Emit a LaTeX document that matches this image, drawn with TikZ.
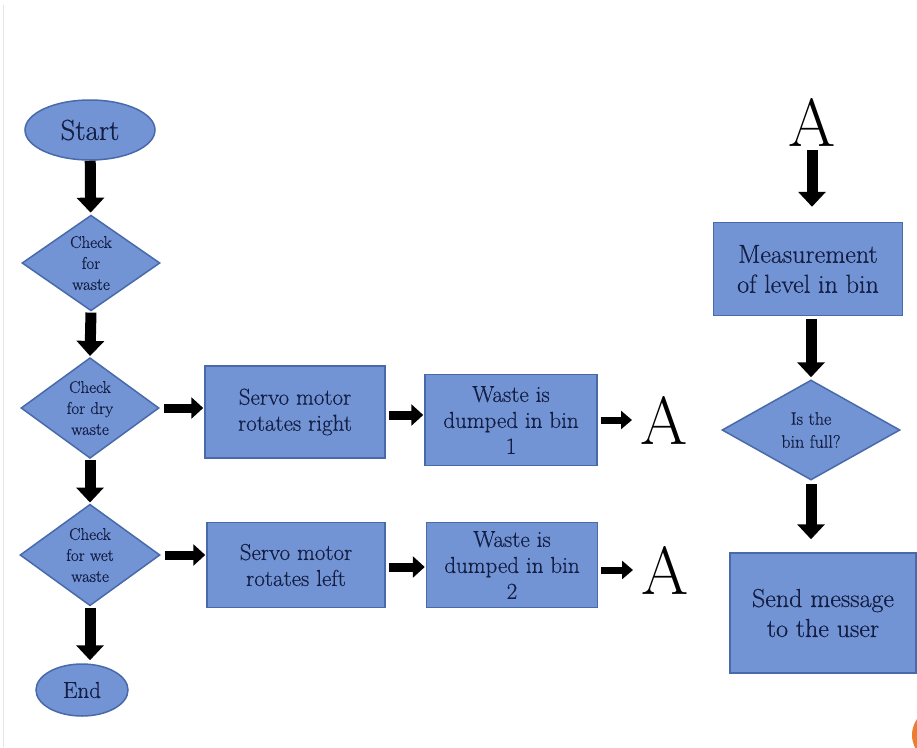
\documentclass[tikz,border=0pt]{standalone}
\usepackage{fontspec}
\setmainfont{Latin Modern Roman}[FakeBold=0.5]
\newfontfamily\plainlm{Latin Modern Roman}
\usetikzlibrary{shapes.geometric,arrows.meta}
\definecolor{boxfill}{RGB}{114,148,212}
\definecolor{boxline}{RGB}{72,106,170}
\definecolor{txt}{RGB}{20,30,68}
\definecolor{orng}{RGB}{237,125,49}
\begin{document}
\begin{tikzpicture}[x=1pt,y=-1pt,
  base/.style={fill=boxfill,draw=boxline,line width=1.5pt,text=txt,align=center,inner sep=0pt},
  term/.style={base,ellipse},
  decide/.style={base,diamond,font=\fontsize{17}{21}\selectfont},
  proc/.style={base,rectangle},
  midtext/.style={font=\fontsize{23}{26}\selectfont},
  bigtext/.style={font=\fontsize{26}{30}\selectfont},
  conn/.style={text=black,inner sep=0pt,font=\plainlm\fontsize{68}{68}\selectfont},
  flow/.style={line width=11pt,-{Triangle[length=15pt,width=27pt]}},
  hflow/.style={line width=9pt,-{Triangle[length=12pt,width=21pt]}},
  aflow/.style={line width=7pt,-{Triangle[length=11pt,width=18pt]}}
]
\useasboundingbox (0,0) rectangle (917,747);
\fill[white] (0,0) rectangle (917,747);
\draw[black!10,line width=1pt] (3,5) -- (3,747);
\begin{scope}
  \clip (0,0) rectangle (917,747);
  \fill[orng] (940,735) circle (28);
\end{scope}

% left column
\node[term,minimum width=130pt,minimum height=60pt,font=\fontsize{29}{29}\selectfont] (start) at (90,130) {Start};
\node[decide,minimum width=138pt,minimum height=94pt] (chk) at (91,263) {Check\\for\\waste};
\node[decide,minimum width=138pt,minimum height=100pt] (dry) at (90,408) {Check\\for dry\\waste};
\node[decide,minimum width=140pt,minimum height=100pt] (wet) at (90,555) {Check\\for wet\\waste};
\node[term,minimum width=92pt,minimum height=52pt,font=\fontsize{23}{23}\selectfont] (end) at (82,690) {End};

% middle rows
\node[proc,midtext,minimum width=180pt,minimum height=92pt] (srvR) at (295,412) {Servo motor\\rotates right};
\node[proc,midtext,minimum width=172pt,minimum height=91pt] (dmp1) at (511,420) {Waste is\\dumped in bin\\1};
\node[conn,anchor=west] (a1) at (640,420) {A};
\node[proc,midtext,minimum width=178pt,minimum height=85pt] (srvL) at (296,565) {Servo motor\\rotates left};
\node[proc,midtext,minimum width=171pt,minimum height=85pt] (dmp2) at (512,565) {Waste is\\dumped in bin\\2};
\node[conn,anchor=west] (a2) at (641,570) {A};

% right column
\node[conn] (a3) at (812,122) {A};
\node[proc,bigtext,minimum width=189pt,minimum height=93pt] (meas) at (808,269) {Measurement\\of level in bin};
\node[decide,minimum width=178pt,minimum height=100pt,font=\fontsize{18}{23}\selectfont] (full) at (811,430) {Is the\\bin full?};
\node[proc,bigtext,minimum width=186pt,minimum height=120pt] (send) at (823,613) {Send message\\to the user};

% connectors
\draw[flow,shorten >=2pt] (start) -- (chk);
\draw[flow,shorten <=1pt,shorten >=1pt] (chk.south) -- (dry.north);
\draw[flow,shorten <=1pt,shorten >=1pt] (dry.south) -- (wet.north);
\draw[flow,shorten <=1pt,shorten >=3pt] (wet.south) -- (end.north -| wet.south);
\draw[hflow,shorten <=4pt,shorten >=1pt] (dry.east) -- (dry.east -| srvR.west);
\draw[hflow,shorten <=4pt,shorten >=1pt] (wet.east) -- (wet.east -| srvL.west);
\draw[hflow,shorten <=3pt,shorten >=1pt] (srvR.east |- 0,415) -- (dmp1.west |- 0,415);
\draw[hflow,shorten <=3pt,shorten >=1pt] (srvL.east |- 0,567) -- (dmp2.west |- 0,567);
\draw[aflow,shorten <=3pt,shorten >=8pt] (dmp1.east |- a1.west) -- (a1.west);
\draw[aflow,shorten <=3pt,shorten >=8pt] (dmp2.east |- a2.west) -- (a2.west);
\draw[flow,shorten <=4pt,shorten >=15pt] (a3.south) -- (a3.south |- meas.north);
\draw[flow,shorten <=3pt,shorten >=2pt] (meas.south -| full.north) -- (full.north);
\draw[flow,shorten <=3pt,shorten >=13pt] (full.south) -- (full.south |- send.north);
\end{tikzpicture}
\end{document}
